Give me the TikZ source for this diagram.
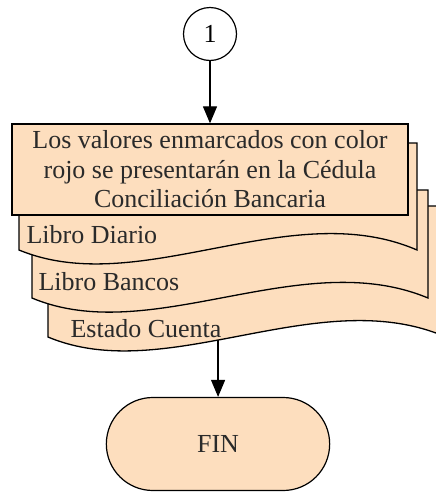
\documentclass[tikz,border=0pt]{standalone}
\usepackage{fontspec}
\newfontfamily\timesfont{Liberation Serif}
\usepackage{xcolor}
\usetikzlibrary{positioning, arrows.meta, shapes.misc}
\definecolor{peach}{HTML}{FDDEBE}
\definecolor{ink}{HTML}{2A2A2A}
\tikzset{
  docshape/.style={draw=black, fill=peach, line width=1.3pt},
  note/.style={draw=black, fill=peach, line width=1.3pt, minimum width=396pt, minimum height=91pt, align=center, text=ink, inner sep=0pt},
  conn/.style={circle, draw=black, fill=white, line width=1.2pt, minimum size=53pt, inner sep=0pt},
  term/.style={rounded rectangle, draw=black, fill=peach, line width=1.2pt, minimum width=230pt, minimum height=93pt, text=ink},
  flow/.style={line width=1.2pt, -{Triangle[length=17pt,width=14pt]}}
}
\begin{document}
\begin{tikzpicture}[x=1pt, y=-1pt, font=\timesfont\fontsize{26}{29.5}\selectfont]
       \useasboundingbox (0,0) rectangle (436,493);
       \clip (0,0) rectangle (436,493);

       % stacked documents, back to front
       \draw[docshape] (48,206) -- (446,206) -- (446,337)
            .. controls (319,282) and (167,387) .. coordinate[pos=0.563] (ewave) (48,337) -- cycle;
       \node[anchor=base west, text=ink] (estado) at (67,337) {Estado Cuenta};
       \draw[docshape] (32,190) -- (428,190) -- (428,298)
            .. controls (301,245) and (151,348) .. (32,298) -- cycle;
       \node[anchor=base west, text=ink] (bancos) at (35,290) {Libro Bancos};
       \draw[docshape] (19,143) -- (417,143) -- (417,250)
            .. controls (290,195) and (140,300) .. (19,250) -- cycle;
       \node[anchor=base west, text=ink] (diario) at (23,243) {Libro Diario};

       \node[note] (nota) at (210,169.5) {Los valores enmarcados con color\\rojo se presentarán en la Cédula\\Conciliación Bancaria};
       \node[conn] (c1) at (210,34) {1};
       \node[term] (fin) at (218,444) {FIN};

       \draw[flow] (c1) -- (nota);
       \draw[flow] (ewave) -- (ewave |- fin.north);
\end{tikzpicture}
\end{document}
